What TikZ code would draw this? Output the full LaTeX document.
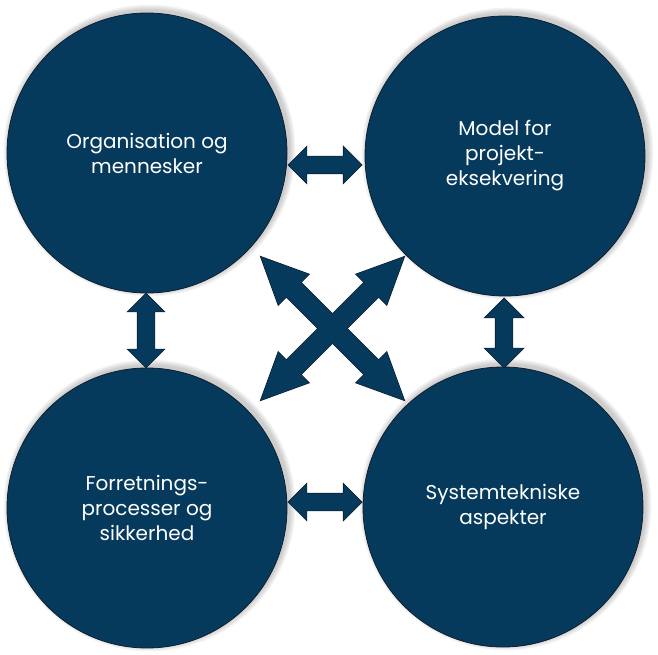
\documentclass[tikz,border=0pt]{standalone}
\usepackage{fontspec}
\setmainfont{Poppins}
\usetikzlibrary{calc,shapes.arrows,backgrounds,positioning}

\definecolor{navy}{RGB}{6,58,92}
\definecolor{rimblue}{RGB}{15,30,45}

\begin{document}
\begin{tikzpicture}[x=1pt,y=1pt,{area/.style={circle,fill=navy,draw=rimblue,line width=0.8pt,minimum size=280pt,inner sep=0pt,align=center,text=white,font=\fontsize{20}{25}\selectfont}},{blockarrow/.style={double arrow,fill=navy,draw=rimblue,line width=0.7pt,inner xsep=0pt}},{flat/.style={blockarrow,inner ysep=8.5pt,double arrow head extend=10pt,double arrow tip angle=90}},{slant/.style={blockarrow,line width=1.3pt,inner ysep=9.5pt,double arrow head extend=11.5pt,minimum height=203pt,double arrow tip angle=50}}]
	\useasboundingbox (0,0) rectangle (658,654);
	%%the four areas
	\node [area] (org) at (147,501) {Organisation og\\mennesker};
	\node [area] (model) at (505,498) {Model for\\projekt-\\eksekvering};
	\node [area] (proc) at (147,146) {Forretnings-\\processer og\\sikkerhed};
	\node [area] (sys) at (503,147) {Systemtekniske\\aspekter};

	%%soft halo behind the areas
	\begin{scope}[on background layer]
		\foreach \n in {org,model,proc,sys}
			\foreach \k in {1,...,6}
				\fill [black,opacity=0.035] ([shift={(2.5,2.5)}]\n.center) circle [radius={(140+\k)*1pt}];
	\end{scope}

	%%arrows between neighbours
	\node [flat,minimum height=74pt] (orgmodel) at ($(org.east)!.5!(model.west)+(-1,-10.5)$) {};
	\node [flat,minimum height=74pt] (procsys) at ($(proc.east)!.5!(sys.west)+(0,5.5)$) {};
	\node [flat,minimum height=75pt,rotate=90] (orgproc) at ($(org.south)!.5!(proc.north)+(-1,0)$) {};
	\node [flat,minimum height=70pt,rotate=90,double arrow head extend=11pt] (modelsys) at ($(model.south)!.5!(sys.north)+(0,-1.5)$) {};

	%%crossing arrows: outlines below, fills on top
	\begin{scope}[on background layer]
		\node [slant,rotate=-45] (orgsys) at ($(org)!.5!(sys)+(7.5,1.5)$) {};
		\node [slant,rotate=45] (procmodel) at ($(proc)!.5!(model)+(6.5,3.5)$) {};
	\end{scope}
	\node [slant,draw=none,rotate=-45] (orgsysfill) at (orgsys) {};
	\node [slant,draw=none,rotate=45] (procmodelfill) at (procmodel) {};
\end{tikzpicture}
\end{document}
